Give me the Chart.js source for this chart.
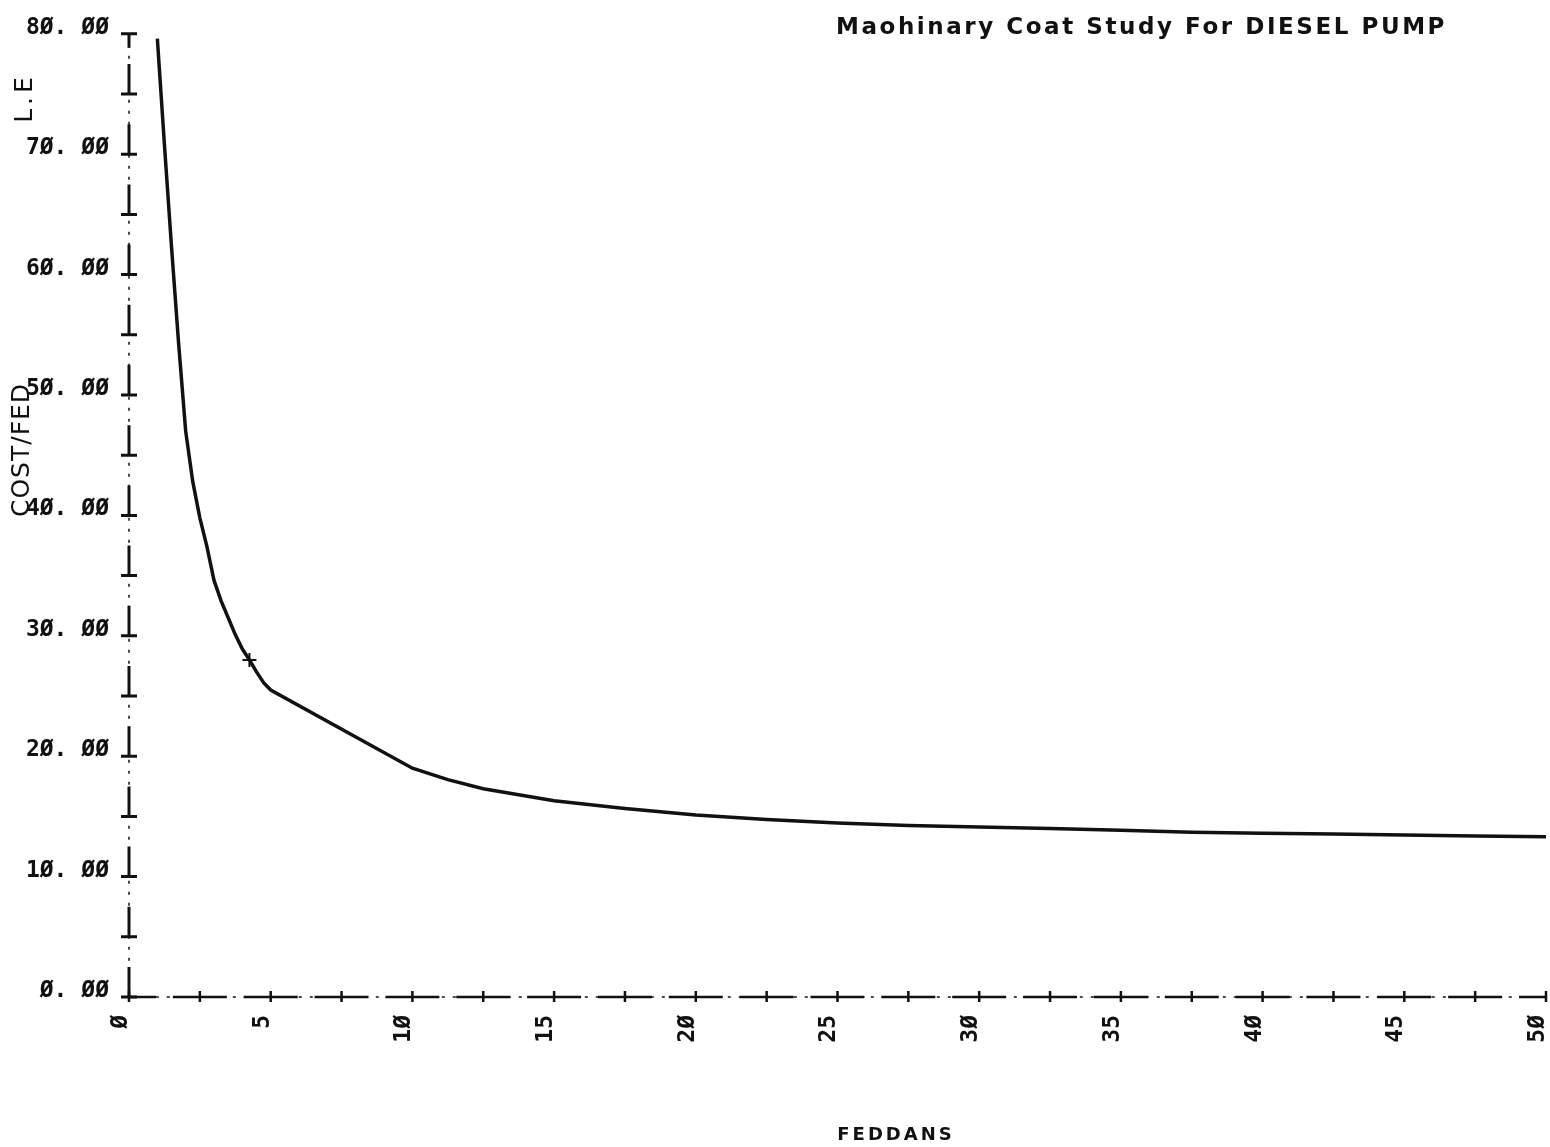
<!DOCTYPE html>
<html>
<head>
<meta charset="utf-8">
<title>Machinary Cost Study For DIESEL PUMP</title>
<script src="https://cdn.jsdelivr.net/npm/chart.js@4.4.1/dist/chart.umd.min.js"></script>
<style>
  html, body { margin: 0; padding: 0; background: #fff; }
  canvas { display: block; }
</style>
</head>
<body>
<canvas id="costChart" width="1550" height="1147"></canvas>
<script>
// Cost per feddan (L.E) against farm size for a diesel pump
const feddans = [1, 1.25, 1.5, 1.75, 2, 2.25, 2.5, 2.75, 3, 3.25, 3.5, 3.75, 4, 4.25, 4.5, 4.75, 5,
    10, 11.25, 12.5, 15, 17.5, 20, 22.5, 25, 27.5, 30, 32.5, 35, 37.5, 40, 42.5, 45, 47.5, 50];
const costPerFeddan = [79.6, 70.8, 62.3, 54.3, 47.0, 42.8, 39.8, 37.4, 34.6, 32.9, 31.5, 30.1, 28.9, 28.0, 27.0, 26.1, 25.5,
    19.0, 18.05, 17.3, 16.3, 15.65, 15.12, 14.75, 14.45, 14.24, 14.12, 13.99, 13.84, 13.69, 13.6, 13.53, 13.46, 13.37, 13.32];
const markedFeddan = 4.25;

const xTickLabels = ['Ø', '5', '1Ø', '15', '2Ø', '25', '3Ø', '35', '4Ø', '45', '5Ø'];
const yTickLabels = ['Ø. ØØ', '1Ø. ØØ', '2Ø. ØØ', '3Ø. ØØ', '4Ø. ØØ', '5Ø. ØØ', '6Ø. ØØ', '7Ø. ØØ', '8Ø. ØØ'];

const chartTitle = 'Maohinary Coat Study For DIESEL PUMP';
const xTitle = 'FEDDANS';
const yTitle = 'COST/FED';
const yUnit = 'L.E';

const INK = '#111';
const tickFont = { family: '"DejaVu Sans Mono", monospace', size: 23, weight: 'bold' };

function spacedText(ctx, text, x, y, spacing) {
    ctx.letterSpacing = spacing + 'px';
    ctx.fillText(text, x, y);
    ctx.letterSpacing = '0px';
}

// plotter style axes: dotted backbone, ⊥ marks on y, + marks on x, plus the labels
const plotterFrame = {
    id: 'plotterFrame',
    beforeDatasetsDraw(chart) {
        const { ctx, scales: { x, y } } = chart;
        const x0 = x.getPixelForValue(0);
        const y0 = y.getPixelForValue(0);
        const xEnd = x.getPixelForValue(50);
        const yTop = y.getPixelForValue(80);

        ctx.save();
        ctx.strokeStyle = INK;
        ctx.lineWidth = 1.5;
        ctx.setLineDash([3, 8]);
        ctx.beginPath();
        ctx.moveTo(x0, yTop);
        ctx.lineTo(x0, y0);
        ctx.lineTo(xEnd, y0);
        ctx.stroke();
        ctx.setLineDash([]);

        ctx.lineWidth = 3;
        for (let v = 0; v <= 80; v += 5) {
            const py = y.getPixelForValue(v);
            ctx.beginPath();
            if (v === 80) {
                ctx.moveTo(x0, py);
                ctx.lineTo(x0, py + 14);
            } else {
                ctx.moveTo(x0, py - 30);
                ctx.lineTo(x0, py);
            }
            ctx.moveTo(x0 - 8, py);
            ctx.lineTo(x0 + 8, py);
            ctx.stroke();
        }

        ctx.lineWidth = 2.5;
        for (let v = 0; v <= 50; v += 2.5) {
            const px = x.getPixelForValue(v);
            ctx.beginPath();
            ctx.moveTo(v === 0 ? px : px - 27, y0);
            ctx.lineTo(v === 50 ? px : px + 27, y0);
            ctx.moveTo(px, y0 - 6);
            ctx.lineTo(px, y0 + 5);
            ctx.stroke();
        }
        ctx.restore();
    },
    afterDraw(chart) {
        const { ctx } = chart;
        ctx.save();
        ctx.fillStyle = INK;

        // title spread to run from x=836 to about x=1447
        ctx.font = 'bold 23px "DejaVu Sans"';
        ctx.textAlign = 'left';
        ctx.textBaseline = 'alphabetic';
        const natural = ctx.measureText(chartTitle).width;
        spacedText(ctx, chartTitle, 836, 34, Math.max(0, (611 - natural) / chartTitle.length));

        ctx.font = 'bold 18px "DejaVu Sans"';
        ctx.textAlign = 'center';
        spacedText(ctx, xTitle, 896, 1140, 3);

        ctx.font = '25px "DejaVu Sans"';
        ctx.textBaseline = 'middle';
        ctx.save();
        ctx.translate(22, 450);
        ctx.rotate(-Math.PI / 2);
        spacedText(ctx, yTitle, 0, 0, 1);
        ctx.restore();

        ctx.save();
        ctx.translate(25, 98);
        ctx.rotate(-Math.PI / 2);
        spacedText(ctx, yUnit, 0, 0, 4);
        ctx.restore();

        ctx.restore();
    }
};

const ctx = document.getElementById('costChart').getContext('2d');

new Chart(ctx, {
    type: 'line',
    data: {
        datasets: [{
            data: feddans.map((f, i) => ({ x: f, y: costPerFeddan[i] })),
            borderColor: INK,
            borderWidth: 3.5,
            tension: 0,
            fill: false,
            pointStyle: 'cross',
            pointRadius: c => (c.raw && c.raw.x === markedFeddan ? 7 : 0),
            pointBorderWidth: 2,
            pointBorderColor: INK
        }]
    },
    options: {
        responsive: false,
        animation: false,
        events: [],
        layout: {
            padding: { top: 32, right: 4, left: 0, bottom: 0 }
        },
        plugins: {
            legend: { display: false },
            tooltip: { enabled: false }
        },
        scales: {
            x: {
                type: 'linear',
                min: 0,
                max: 50,
                grid: { display: false, drawTicks: false },
                border: { display: false },
                ticks: {
                    stepSize: 5,
                    minRotation: 90,
                    maxRotation: 90,
                    padding: 18,
                    labelOffset: -8,
                    color: INK,
                    font: tickFont,
                    callback: v => xTickLabels[Math.round(v / 5)]
                },
                afterFit(scale) {
                    scale.height = 150;
                    scale.paddingLeft = 0;
                    scale.paddingRight = 0;
                }
            },
            y: {
                min: 0,
                max: 80,
                grid: { display: false, drawTicks: false },
                border: { display: false },
                ticks: {
                    stepSize: 10,
                    padding: 20,
                    labelOffset: -6,
                    color: INK,
                    font: tickFont,
                    callback: v => yTickLabels[Math.round(v / 10)]
                },
                afterFit(scale) {
                    scale.width = 129;
                }
            }
        }
    },
    plugins: [plotterFrame]
});
</script>
</body>
</html>
